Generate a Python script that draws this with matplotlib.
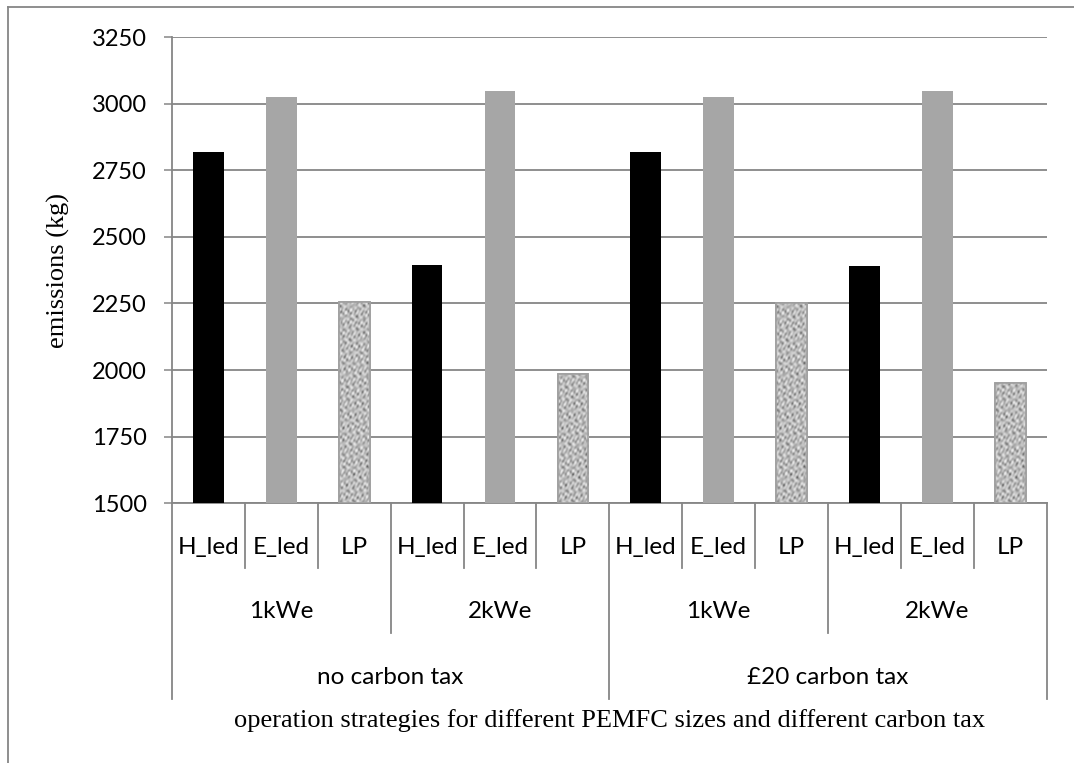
import numpy as np
import matplotlib
matplotlib.use("Agg")
import matplotlib.pyplot as plt
import matplotlib.transforms as mtransforms
from matplotlib.lines import Line2D

# data
strategies = ["H_led", "E_led", "LP"] * 4
sizes = ["1kWe", "2kWe", "1kWe", "2kWe"]
taxes = ["no carbon tax", "\u00a320 carbon tax"]
emissions = [2820, 3025, 2256, 2394, 3046, 1984,
             2817, 3024, 2250, 2390, 3047, 1952]
yticks = [1500, 1750, 2000, 2250, 2500, 2750, 3000, 3250]

grey = "#868686"
label_font = "Lato"
serif_font = "Liberation Serif"

fig = plt.figure(figsize=(10.74, 7.63), dpi=100)
ax = fig.add_axes([0.1601, 0.3404, 0.9746 - 0.1601, 0.9515 - 0.3404])

# granite-like fill for the LP bars (smooth deterministic pattern)
gy, gx = np.mgrid[0:480, 0:40] * 1.0
tex = (np.sin(0.61 * gx + 0.23 * gy) * np.sin(0.19 * gx - 0.71 * gy + 0.7)
       + 0.8 * np.sin(0.37 * gx + 0.83 * gy + 1.3) * np.sin(0.97 * gx - 0.29 * gy)
       + 0.6 * np.sin(0.53 * gx - 0.47 * gy + 2.1) * np.sin(0.13 * gx + 0.41 * gy + 0.5)
       + 0.4 * np.sin(1.31 * gx + 1.07 * gy + 0.9))
tex = (tex - tex.min()) / (tex.max() - tex.min())
tex = np.clip(0.25 + 0.75 * tex ** 0.6, 0, 0.92)

x = np.arange(len(emissions))
for i, v in enumerate(emissions):
    s = strategies[i]
    if s == "H_led":
        ax.bar(x[i], v - 1500, bottom=1500, width=0.42, color="black", zorder=3)
    elif s == "E_led":
        ax.bar(x[i], v - 1500, bottom=1500, width=0.42, color="#a6a6a6", zorder=3)
    else:
        b = ax.bar(x[i], v - 1500, bottom=1500, width=0.42, facecolor="#b8b8b8",
                   edgecolor="#a0a0a0", linewidth=1.2, zorder=3)[0]
        img = ax.imshow(tex, cmap="gray", vmin=0, vmax=1, aspect="auto",
                        extent=[x[i] - 0.21, x[i] + 0.21, 1500, 3250],
                        interpolation="bilinear", zorder=3.5)
        img.set_clip_path(b)
        ax.bar(x[i], v - 1500, bottom=1500, width=0.42, facecolor="none",
               edgecolor="#a0a0a0", linewidth=1.2, zorder=4)

ax.set_xlim(-0.5, len(emissions) - 0.5)
ax.set_ylim(1500, 3250)
ax.set_yticks(yticks)
ax.set_yticklabels([str(t) for t in yticks], fontsize=17, family=label_font)
ax.tick_params(axis="y", length=6, width=1.1, color=grey, pad=12)
ax.set_xticks([])
ax.yaxis.grid(True, color=grey, linewidth=1.3, zorder=0)
ax.set_axisbelow(True)
for side in ["top", "right"]:
    ax.spines[side].set_visible(False)
ax.spines["left"].set_color(grey)
ax.spines["left"].set_linewidth(1.3)
ax.spines["bottom"].set_color(grey)
ax.spines["bottom"].set_linewidth(1.3)

trans = mtransforms.blended_transform_factory(ax.transData, ax.transAxes)
row1, row2, row3 = -0.1388, -0.278, -0.419

# separators for the three category levels
for b in range(len(emissions) + 1):
    bx = b - 0.5
    if b % 6 == 0:
        bottom = row3
    elif b % 3 == 0:
        bottom = row2
    else:
        bottom = row1
    ax.plot([bx, bx], [0, bottom], color=grey, linewidth=1.3,
            transform=trans, clip_on=False)

for i, s in enumerate(strategies):
    ax.text(x[i], -0.094, s, transform=trans, ha="center", va="center",
            fontsize=17.5, family=label_font)
for j, s in enumerate(sizes):
    ax.text(3 * j + 1, -0.233, s, transform=trans, ha="center", va="center",
            fontsize=17.5, family=label_font)
for j, s in enumerate(taxes):
    ax.text(6 * j + 2.5, -0.373, s, transform=trans, ha="center", va="center",
            fontsize=17.5, family=label_font)

ax.text(5.5, -0.466, "operation strategies for different PEMFC sizes and different carbon tax",
        transform=trans, ha="center", va="center", fontsize=19, family=serif_font)
fig.text(58 / 1074, 1 - 270 / 763, "emissions (kg)", rotation=90, ha="center",
         va="center", fontsize=19, family=serif_font)

# outer chart frame (cropped on right and bottom)
fig.add_artist(Line2D([8 / 1074, 1], [1 - 7 / 763, 1 - 7 / 763], color=grey, linewidth=1.3))
fig.add_artist(Line2D([8 / 1074, 8 / 1074], [0, 1 - 7 / 763], color=grey, linewidth=1.3))

fig.savefig("out.png", dpi=100)
